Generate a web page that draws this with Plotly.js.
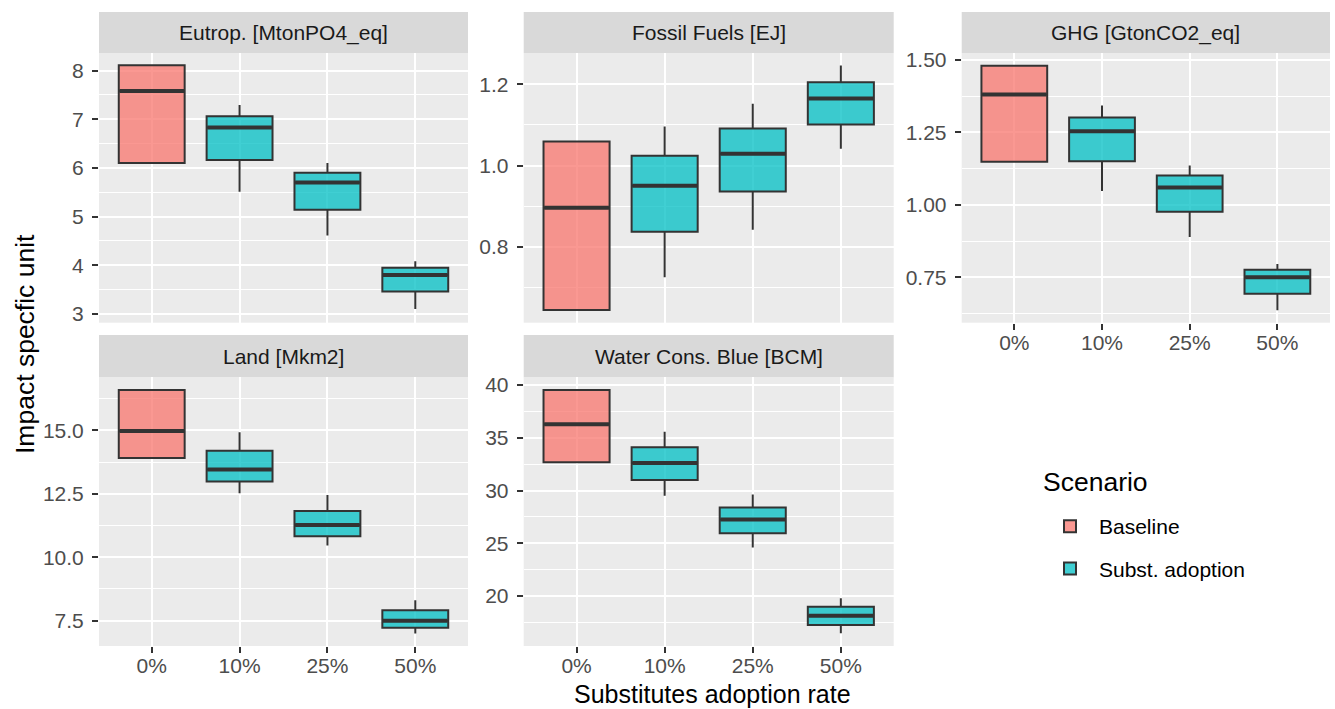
<!DOCTYPE html>
<html>
<head>
<meta charset="utf-8">
<script src="https://cdn.plot.ly/plotly-3.0.1.min.js"></script>
<style>html,body{margin:0;padding:0;background:#fff;}#chart{width:1335px;height:709px;}</style>
</head>
<body>
<div id="chart"></div>
<script>
// ---- categories ----
const rates = ["0%", "10%", "25%", "50%"];
const scenarios = ["Baseline", "Subst. adoption"];
const panelTitles = ["Eutrop. [MtonPO4_eq]", "Fossil Fuels [EJ]", "GHG [GtonCO2_eq]", "Land [Mkm2]", "Water Cons. Blue [BCM]"];

// ---- box statistics (index 0 = Baseline 0%, 1..3 = Subst. adoption) ----
const eutropLow  = [6.10, 5.51, 4.61, 3.10];
const eutropQ1   = [6.10, 6.16, 5.14, 3.46];
const eutropMed  = [7.58, 6.83, 5.70, 3.80];
const eutropQ3   = [8.11, 7.06, 5.90, 3.95];
const eutropHigh = [8.11, 7.29, 6.10, 4.08];

const fossilLow  = [0.644, 0.725, 0.842, 1.041];
const fossilQ1   = [0.644, 0.837, 0.936, 1.101];
const fossilMed  = [0.896, 0.950, 1.029, 1.165];
const fossilQ3   = [1.059, 1.024, 1.091, 1.205];
const fossilHigh = [1.059, 1.096, 1.152, 1.246];

const ghgLow  = [1.149, 1.048, 0.889, 0.636];
const ghgQ1   = [1.149, 1.150, 0.976, 0.693];
const ghgMed  = [1.381, 1.254, 1.060, 0.750];
const ghgQ3   = [1.480, 1.301, 1.101, 0.776];
const ghgHigh = [1.480, 1.343, 1.136, 0.796];

const landLow  = [13.91, 12.52, 10.46, 6.99];
const landQ1   = [13.91, 12.98, 10.83, 7.22];
const landMed  = [14.97, 13.46, 11.27, 7.50];
const landQ3   = [16.59, 14.20, 11.82, 7.91];
const landHigh = [16.59, 14.92, 12.45, 8.30];

const waterLow  = [32.67, 29.50, 24.59, 16.46];
const waterQ1   = [32.67, 31.00, 25.94, 17.25];
const waterMed  = [36.27, 32.61, 27.24, 18.13];
const waterQ3   = [39.53, 34.10, 28.40, 18.99];
const waterHigh = [39.53, 35.58, 29.63, 19.78];

const panelStats = [
  [eutropLow, eutropQ1, eutropMed, eutropQ3, eutropHigh],
  [fossilLow, fossilQ1, fossilMed, fossilQ3, fossilHigh],
  [ghgLow, ghgQ1, ghgMed, ghgQ3, ghgHigh],
  [landLow, landQ1, landMed, landQ3, landHigh],
  [waterLow, waterQ1, waterMed, waterQ3, waterHigh]
];

// ---- styling ----
const W = 1335, H = 709;
const FONT = "Liberation Sans, Arial, sans-serif";
const fills = ["rgba(248,118,109,0.75)", "rgba(0,191,196,0.75)"];
const edge = "#333333";
const SMALL = 21;
const BIG = 26.5;

// panel pixel boxes: [x0, x1, y0(top), y1(bottom)]
const panelPx = [
  [99, 468, 53, 322.7],
  [523.7, 893.7, 53, 322.7],
  [961.7, 1330, 53, 322.7],
  [99, 468, 377.3, 646],
  [523.7, 893.7, 377.3, 646]
];
const stripH = [41, 42.3];
const yRanges = [[2.82, 8.36], [0.613, 1.277], [0.593, 1.524], [6.50, 17.09], [15.26, 40.73]];
const yDtick = [1, 0.2, 0.25, 2.5, 5];
const yFormat = ["d", ".1f", ".2f", ".1f", "d"];
const showX = [false, false, true, true, true];

const traces = [];
const layout = {
  width: W, height: H,
  margin: {l: 0, r: 0, t: 0, b: 0},
  paper_bgcolor: "#FFFFFF",
  plot_bgcolor: "#EBEBEB",
  boxmode: "overlay",
  font: {family: FONT, color: "#4D4D4D"},
  showlegend: true,
  legend: {
    x: 1041 / W, y: 1 - 506 / H, xanchor: "left", yanchor: "top",
    font: {size: SMALL, color: "#000000", family: FONT},
    bgcolor: "rgba(0,0,0,0)",
    traceorder: "grouped",
    tracegroupgap: 12,
    itemwidth: 48
  },
  shapes: [],
  annotations: []
};

panelStats.forEach((st, p) => {
  const [low, q1, med, q3, high] = st;
  const sfx = p === 0 ? "" : String(p + 1);
  const xa = "x" + sfx, ya = "y" + sfx;
  const groups = [[0], [1, 2, 3]];
  groups.forEach((idx, s) => {
    const pick = arr => idx.map(i => arr[i]);
    traces.push({
      type: "box", name: scenarios[s], legendgroup: scenarios[s],
      showlegend: p === 0,
      x: pick(rates), q1: pick(q1), median: pick(med), q3: pick(q3),
      lowerfence: pick(low), upperfence: pick(high),
      xaxis: xa, yaxis: ya, width: 0.75, whiskerwidth: 0,
      boxpoints: false, fillcolor: fills[s],
      line: {color: edge, width: 2}, hoverinfo: "skip"
    });
    // thicker median bar (ggplot fatten)
    traces.push({
      type: "box", name: scenarios[s], legendgroup: scenarios[s], showlegend: false,
      x: pick(rates), q1: pick(med), median: pick(med), q3: pick(med),
      lowerfence: pick(med), upperfence: pick(med),
      xaxis: xa, yaxis: ya, width: 0.735, whiskerwidth: 0,
      boxpoints: false, fillcolor: "rgba(0,0,0,0)",
      line: {color: edge, width: 4}, hoverinfo: "skip"
    });
  });

  const [px0, px1, py0, py1] = panelPx[p];
  const dx = [px0 / W, px1 / W];
  const dy = [1 - py1 / H, 1 - py0 / H];
  layout["xaxis" + sfx] = {
    domain: dx, anchor: ya, type: "category",
    categoryorder: "array", categoryarray: rates,
    range: [-0.6, 3.6], fixedrange: true,
    showgrid: true, gridcolor: "#FFFFFF", gridwidth: 2,
    zeroline: false, showline: false,
    showticklabels: showX[p], ticks: showX[p] ? "outside" : "",
    ticklen: 6, tickwidth: 2, tickcolor: edge, ticklabelstandoff: -5,
    tickfont: {size: SMALL, color: "#4D4D4D", family: FONT}
  };
  layout["yaxis" + sfx] = {
    domain: dy, anchor: xa, range: yRanges[p], fixedrange: true,
    tick0: 0, dtick: yDtick[p], tickformat: yFormat[p],
    showgrid: true, gridcolor: "#FFFFFF", gridwidth: 2,
    minor: {tick0: 0, dtick: yDtick[p] / 2, showgrid: true, gridcolor: "#FFFFFF", gridwidth: 1, ticks: ""},
    zeroline: false, showline: false,
    ticks: "outside", ticklen: 6, tickwidth: 2, tickcolor: edge, ticklabelstandoff: 4,
    tickfont: {size: SMALL, color: "#4D4D4D", family: FONT}
  };
  // strip
  const sh = p < 3 ? stripH[0] : stripH[1];
  layout.shapes.push({
    type: "rect", xref: "paper", yref: "paper",
    x0: px0 / W, x1: px1 / W, y0: 1 - py0 / H, y1: 1 - (py0 - sh) / H,
    fillcolor: "#D9D9D9", line: {width: 0}, layer: "below"
  });
  layout.annotations.push({
    xref: "paper", yref: "paper", x: (px0 + px1) / 2 / W, y: 1 - (py0 - sh / 2) / H,
    text: panelTitles[p], showarrow: false, xanchor: "center", yanchor: "middle",
    font: {size: SMALL, color: "#1A1A1A", family: FONT}
  });
});

layout.annotations.push({
  xref: "paper", yref: "paper", x: 713 / W, y: 0,
  text: "Substitutes adoption rate", showarrow: false, xanchor: "center", yanchor: "bottom",
  borderpad: 0,
  font: {size: 25, color: "#000000", family: FONT}
});
layout.annotations.push({
  xref: "paper", yref: "paper", x: 25 / W, y: 1 - 344 / H,
  text: "Impact specfic unit", showarrow: false, textangle: -90, xanchor: "center", yanchor: "middle",
  font: {size: BIG, color: "#000000", family: FONT}
});
layout.annotations.push({
  xref: "paper", yref: "paper", x: 1041 / W, y: 1 - 482 / H,
  text: "Scenario", showarrow: false, xanchor: "left", yanchor: "middle",
  font: {size: BIG, color: "#000000", family: FONT}
});

Plotly.newPlot("chart", traces, layout, {staticPlot: true, displayModeBar: false});
</script>
</body>
</html>
